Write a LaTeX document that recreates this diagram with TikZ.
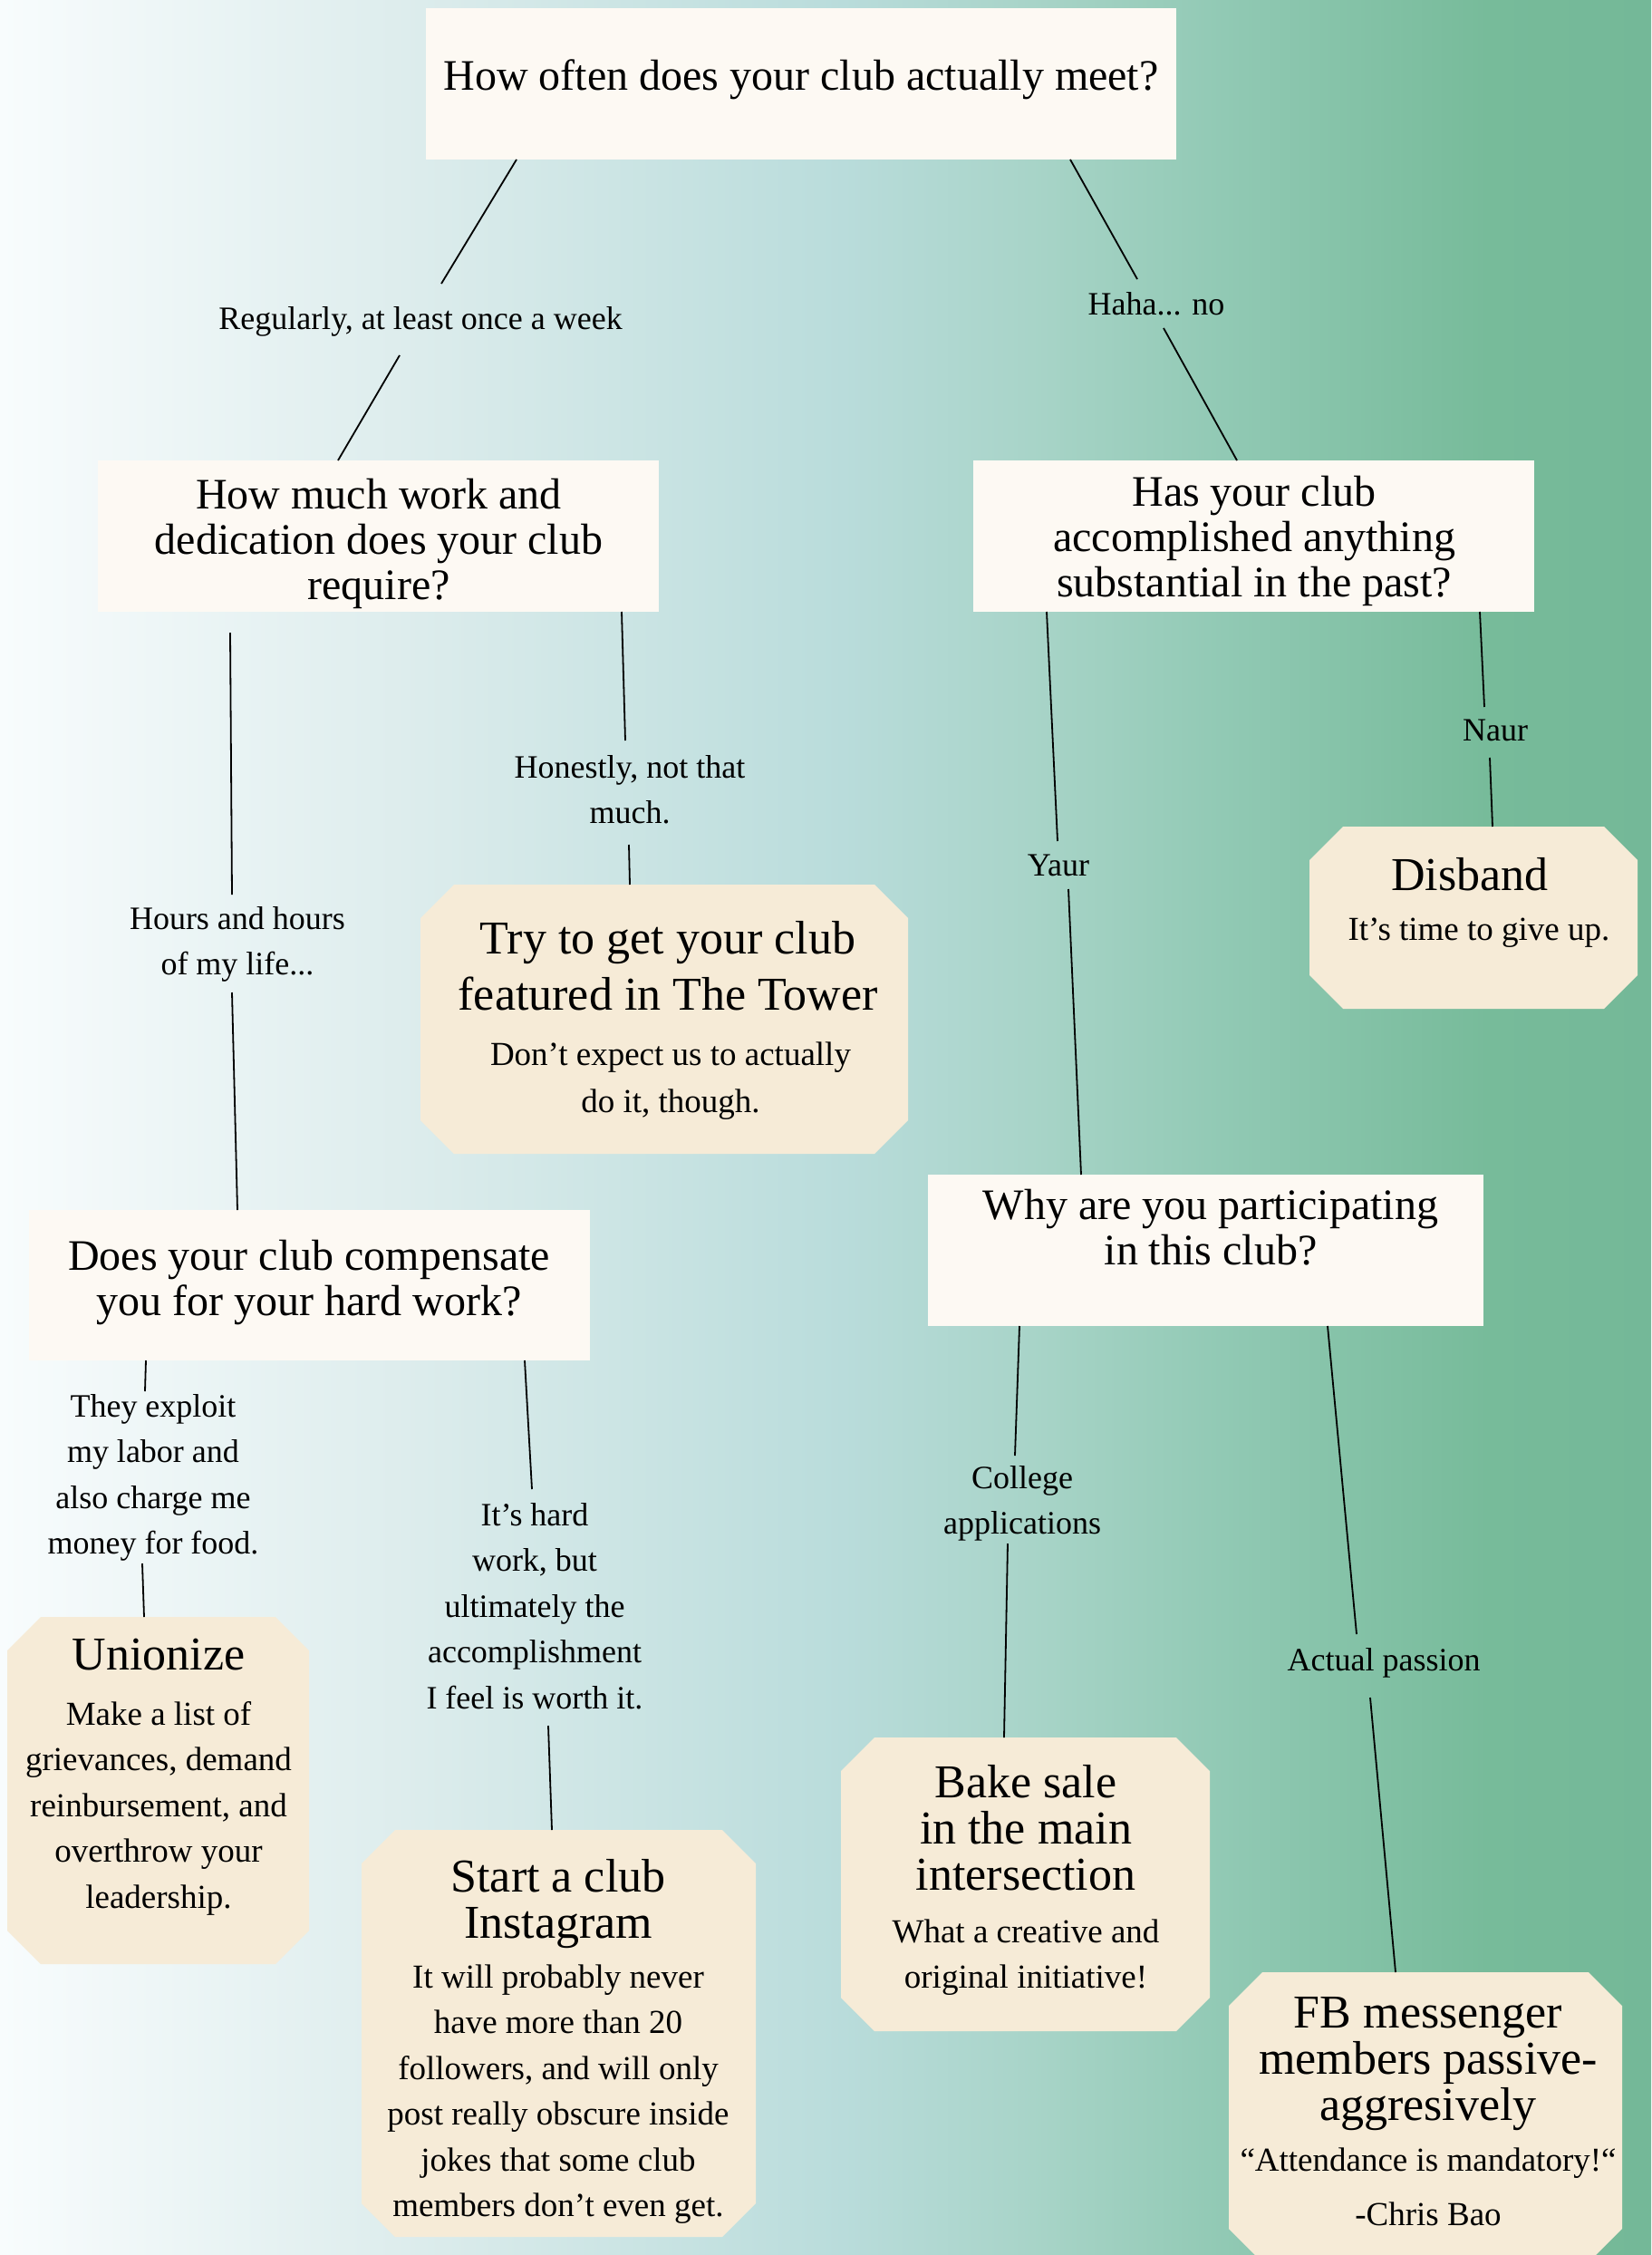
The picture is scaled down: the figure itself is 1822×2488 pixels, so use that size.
\documentclass[tikz,border=0pt]{standalone}
\usepackage{fontspec}
\setmainfont{Liberation Serif}
\usetikzlibrary{calc}
\definecolor{bg0}{HTML}{F8FCFD}
\definecolor{bg1}{HTML}{DCECEC}
\definecolor{bg2}{HTML}{B9DCDB}
\definecolor{bg3}{HTML}{A6D3C6}
\definecolor{bg4}{HTML}{91C9B4}
\definecolor{bg5}{HTML}{77BB9A}
\definecolor{bg6}{HTML}{74B898}
\definecolor{qfill}{HTML}{FDF9F3}
\definecolor{ofill}{HTML}{F6EBD7}
\newcommand\mlines[1]{\vtop{\halign{\hfil##\hfil\cr#1\crcr}}}
\newcommand\octo[5]{%
  \fill[ofill] (#2+37,#3) -- (#4-37,#3) -- (#4,#3+37) -- (#4,#5-37) -- (#4-37,#5) -- (#2+37,#5) -- (#2,#5-37) -- (#2,#3+37) -- cycle;
  \node[inner sep=0pt, minimum width={#4-#2}, minimum height={#5-#3}, anchor=north west] (#1) at (#2,#3) {};}
\tikzset{
  txt/.style={inner sep=0pt, anchor=base, text=black},
  qtxt/.style={txt, font=\fontsize{48}{50}\selectfont},
  ltxt/.style={txt, font=\fontsize{36}{50.5}\selectfont},
  ttxt/.style={txt, font=\fontsize{52}{51}\selectfont},
  btxt/.style={txt, font=\fontsize{37}{50.5}\selectfont},
  qbox/.style={fill=qfill, draw=none, inner sep=0pt, anchor=north west},
  link/.style={line width=1.8pt, draw=black},
}
\begin{document}
\begin{tikzpicture}[x=1pt,y=-1pt]
\clip (0,0) rectangle (1822,2488);
% background gradient
\shade[left color=bg0, right color=bg1] (0,0) rectangle (466,2488);
\shade[left color=bg1, right color=bg2] (465,0) rectangle (931,2488);
\shade[left color=bg2, right color=bg3] (930,0) rectangle (1161,2488);
\shade[left color=bg3, right color=bg4] (1160,0) rectangle (1351,2488);
\shade[left color=bg4, right color=bg5] (1350,0) rectangle (1641,2488);
\shade[left color=bg5, right color=bg6] (1640,0) rectangle (1822,2488);

% question boxes
\node[qbox, minimum width=828pt, minimum height=167pt] (q1) at (470,9) {};
\node[qbox, minimum width=619pt, minimum height=167pt] (q2) at (108,508) {};
\node[qbox, minimum width=619pt, minimum height=167pt] (q3) at (1074,508) {};
\node[qbox, minimum width=619pt, minimum height=166pt] (q4) at (32,1335) {};
\node[qbox, minimum width=613pt, minimum height=167pt] (q5) at (1024,1296) {};

\node[qtxt] (q1t) at (884,100) {How often does your club actually meet?};
\node[qtxt] (q2t) at (418,561) {\mlines{How much work and\cr dedication does your club\cr require?}};
\node[qtxt] (q3t) at (1384,558) {\mlines{Has your club\cr accomplished anything\cr substantial in the past?}};
\node[qtxt] (q4t) at (341,1401) {\mlines{Does your club compensate\cr you for your hard work?}};
\node[qtxt] (q5t) at (1336,1345) {\mlines{Why are you participating\cr in this club?}};

% outcome octagons
\octo{o1}{464}{976}{1002}{1273}
\octo{o2}{1445}{912}{1807}{1113}
\octo{o3}{8}{1784}{341}{2167}
\octo{o4}{399}{2019}{834}{2468}
\octo{o5}{928}{1917}{1335}{2241}
\octo{o6}{1356}{2176}{1790}{2496}

\node[txt, font=\fontsize{52}{62}\selectfont] (o1t) at (737,1052) {\mlines{Try to get your club\cr featured in The Tower}};
\node[txt, font=\fontsize{37}{52}\selectfont] (o1b) at (740,1175) {\mlines{Don’t expect us to actually\cr do it, though.}};
\node[ttxt] (o2t) at (1622,982) {Disband};
\node[btxt] (o2b) at (1632,1037) {It’s time to give up.};
\node[ttxt] (o3t) at (175,1842) {Unionize};
\node[btxt] (o3b) at (175,1903) {\mlines{Make a list of\cr grievances, demand\cr reinbursement, and\cr overthrow your\cr leadership.}};
\node[ttxt] (o4t) at (616,2087) {\mlines{Start a club\cr Instagram}};
\node[btxt] (o4b) at (616,2193) {\mlines{It will probably never\cr have more than 20\cr followers, and will only\cr post really obscure inside\cr jokes that some club\cr members don’t even get.}};
\node[ttxt] (o5t) at (1132,1983) {\mlines{Bake sale\cr in the main\cr intersection}};
\node[btxt] (o5b) at (1132,2143) {\mlines{What a creative and\cr original initiative!}};
\node[ttxt] (o6t) at (1576,2237) {\mlines{FB messenger\cr members passive-\cr aggresively}};
\node[txt, font=\fontsize{37}{60}\selectfont] (o6b) at (1576,2395) {\mlines{“Attendance is mandatory!“\cr -Chris Bao}};

% labels
\node[ltxt] (l1) at (464,363) {Regularly, at least once a week};
\node[ltxt] (l2) at (1276,347) {Haha... no};
\node[ltxt] (l3) at (262,1025) {\mlines{Hours and hours\cr of my life...}};
\node[ltxt] (l4) at (695,858) {\mlines{Honestly, not that\cr much.}};
\node[ltxt] (l5) at (1168,966) {Yaur};
\node[ltxt] (l6) at (1650,817) {Naur};
\node[ltxt] (l7) at (169,1563) {\mlines{They exploit\cr my labor and\cr also charge me\cr money for food.}};
\node[ltxt] (l8) at (590,1683) {\mlines{It’s hard\cr work, but\cr ultimately the\cr accomplishment\cr I feel is worth it.}};
\node[ltxt] (l9) at (1128,1642) {\mlines{College\cr applications}};
\node[ltxt] (l10) at (1527,1843) {Actual passion};

% connector end points
\coordinate (a1) at (570,176);  \coordinate (a2) at (487,313);
\coordinate (a3) at (441,392);  \coordinate (a4) at (373,508);
\coordinate (b1) at (1181,176); \coordinate (b2) at (1255,308);
\coordinate (b3) at (1284,362); \coordinate (b4) at (1365,508);
\coordinate (c1) at (254,698);  \coordinate (c2) at (256,987);
\coordinate (c3) at (256,1095); \coordinate (c4) at (262,1335);
\coordinate (d1) at (686,675);  \coordinate (d2) at (690,817);
\coordinate (d3) at (694,932);  \coordinate (d4) at (695,976);
\coordinate (e1) at (1155,675); \coordinate (e2) at (1167,928);
\coordinate (e3) at (1179,981); \coordinate (e4) at (1193,1296);
\coordinate (f1) at (1633,675); \coordinate (f2) at (1638,780);
\coordinate (f3) at (1644,836); \coordinate (f4) at (1647,912);
\coordinate (g1) at (161,1501); \coordinate (g2) at (160,1535);
\coordinate (g3) at (157,1725); \coordinate (g4) at (159,1784);
\coordinate (h1) at (579,1501); \coordinate (h2) at (587,1643);
\coordinate (h3) at (605,1904); \coordinate (h4) at (609,2019);
\coordinate (i1) at (1125,1463); \coordinate (i2) at (1120,1606);
\coordinate (i3) at (1112,1703); \coordinate (i4) at (1108,1917);
\coordinate (j1) at (1465,1463); \coordinate (j2) at (1497,1803);
\coordinate (j3) at (1512,1873); \coordinate (j4) at (1540,2176);

\draw[link] (a1) -- (a2); \draw[link] (a3) -- (a4);
\draw[link] (b1) -- (b2); \draw[link] (b3) -- (b4);
\draw[link] (c1) -- (c2); \draw[link] (c3) -- (c4);
\draw[link] (d1) -- (d2); \draw[link] (d3) -- (d4);
\draw[link] (e1) -- (e2); \draw[link] (e3) -- (e4);
\draw[link] (f1) -- (f2); \draw[link] (f3) -- (f4);
\draw[link] (g1) -- (g2); \draw[link] (g3) -- (g4);
\draw[link] (h1) -- (h2); \draw[link] (h3) -- (h4);
\draw[link] (i1) -- (i2); \draw[link] (i3) -- (i4);
\draw[link] (j1) -- (j2); \draw[link] (j3) -- (j4);
\end{tikzpicture}
\end{document}
